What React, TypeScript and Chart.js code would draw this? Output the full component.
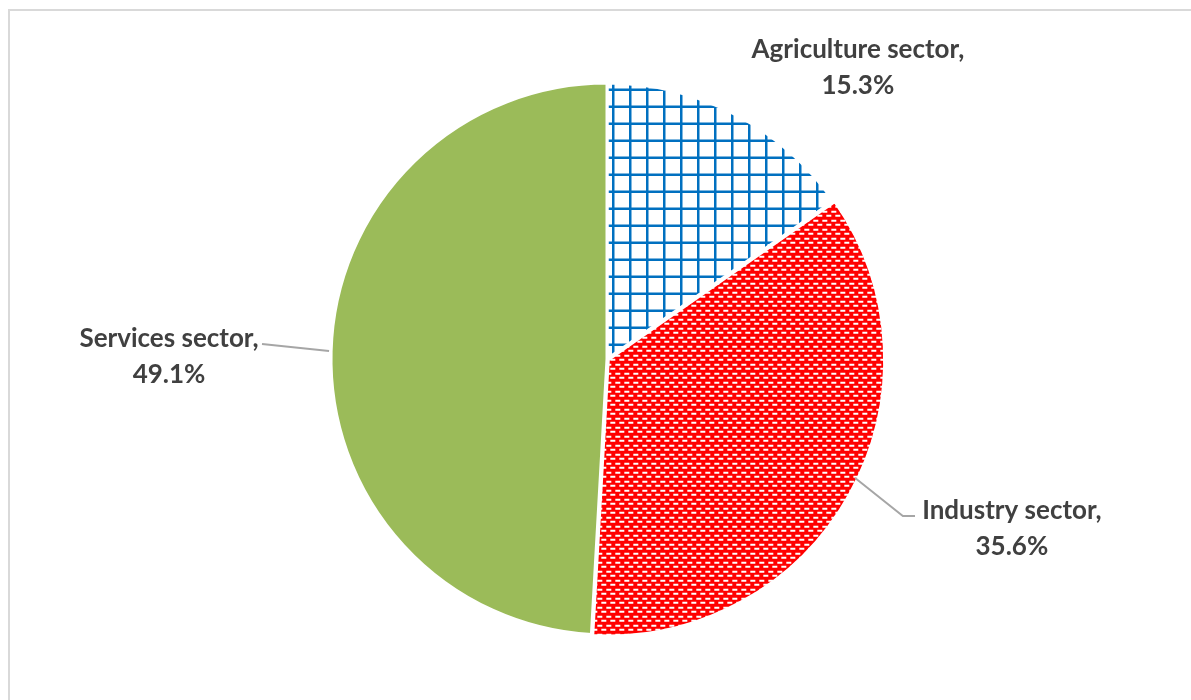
import React, { useEffect, useRef } from "react";
import { Chart, registerables } from "chart.js";

Chart.register(...registerables);

// ---- data ----
const categories = ["Agriculture sector", "Industry sector", "Services sector"];
const shares = [15.3, 35.6, 49.1];
const shareLabels = ["15.3%", "35.6%", "49.1%"];

const FONT = "Lato, 'Open Sans', sans-serif";
const TEXT_COLOR = "#404040";

function makeGridPattern(): CanvasPattern | string {
  const c = document.createElement("canvas");
  c.width = 17;
  c.height = 17;
  const ctx = c.getContext("2d");
  if (!ctx) return "#0070C0";
  ctx.fillStyle = "#ffffff";
  ctx.fillRect(0, 0, 17, 17);
  ctx.fillStyle = "#0070C0";
  ctx.fillRect(7, 0, 2.5, 17);
  ctx.fillRect(0, 9.5, 17, 2.5);
  return ctx.createPattern(c, "repeat") || "#0070C0";
}

function makeBrickPattern(): CanvasPattern | string {
  const c = document.createElement("canvas");
  c.width = 18;
  c.height = 9;
  const ctx = c.getContext("2d");
  if (!ctx) return "#ff0000";
  ctx.fillStyle = "#ff0000";
  ctx.fillRect(0, 0, 18, 9);
  ctx.fillStyle = "#ffffff";
  ctx.fillRect(1, 1, 5, 2);
  ctx.fillRect(10, 1, 5, 2);
  ctx.fillRect(5, 5, 5, 2);
  ctx.fillRect(14, 5, 4, 2);
  ctx.fillRect(0, 5, 1, 2);
  return ctx.createPattern(c, "repeat") || "#ff0000";
}

// label anchors (multiples of radius from the pie centre)
const labelAnchors = [
  { dx: 0.909, dy: -1.054 },
  { dx: 1.467, dy: 0.614 },
  { dx: -1.587, dy: -0.009 },
];
const leaderLines: { x: number; y: number }[][] = [
  [],
  [
    { x: 0.899, y: 0.431 },
    { x: 1.072, y: 0.569 },
    { x: 1.116, y: 0.569 },
  ],
  [
    { x: -1.007, y: -0.029 },
    { x: -1.25, y: -0.054 },
  ],
];

const labelPlugin = {
  id: "sectorLabels",
  afterDatasetsDraw(chart: any) {
    const meta = chart.getDatasetMeta(0);
    const arc = meta.data[0] as any;
    if (!arc) return;
    const cx = arc.x;
    const cy = arc.y;
    const R = arc.outerRadius;
    const ctx = chart.ctx;
    ctx.save();
    // leader lines
    ctx.strokeStyle = "#a6a6a6";
    ctx.lineWidth = 2;
    leaderLines.forEach((pts) => {
      if (!pts.length) return;
      ctx.beginPath();
      pts.forEach((p, i) => {
        const x = cx + p.x * R;
        const y = cy + p.y * R;
        if (i === 0) ctx.moveTo(x, y);
        else ctx.lineTo(x, y);
      });
      ctx.stroke();
    });
    // texts
    ctx.fillStyle = TEXT_COLOR;
    ctx.font = `bold 26px ${FONT}`;
    ctx.textAlign = "center";
    ctx.textBaseline = "middle";
    categories.forEach((cat, i) => {
      const a = labelAnchors[i];
      const x = cx + a.dx * R;
      const y = cy + a.dy * R;
      ctx.fillText(cat + ",", x, y - 18);
      ctx.fillText(shareLabels[i], x, y + 18);
    });
    ctx.restore();
  },
};

export default function App() {
  const ref = useRef<HTMLCanvasElement | null>(null);

  useEffect(() => {
    if (!ref.current) return;
    const grid = makeGridPattern();
    const brick = makeBrickPattern();
    const chart = new Chart(ref.current, {
      type: "pie",
      data: {
        labels: categories,
        datasets: [
          {
            data: shares,
            backgroundColor: [grid, brick, "#9BBB59"],
            borderColor: "#ffffff",
            borderWidth: 3,
            offset: [0, 6, 0],
            radius: 276,
          } as any,
        ],
      },
      options: {
        responsive: false,
        animation: false,
        maintainAspectRatio: false,
        layout: { padding: { left: 13, top: 7, right: 0, bottom: 0 } },
        plugins: {
          legend: { display: false },
          tooltip: { enabled: false },
          title: { display: false },
        },
      },
      plugins: [labelPlugin],
    });
    return () => chart.destroy();
  }, []);

  return (
    <div
      style={{
        position: "fixed",
        left: 0,
        top: 0,
        width: 1191,
        height: 700,
        overflow: "hidden",
        background: "#ffffff",
      }}
    >
      <div
        style={{
          position: "absolute",
          left: 8,
          top: 9,
          width: 1200,
          height: 720,
          border: "2px solid #d9d9d9",
          boxSizing: "border-box",
        }}
      >
        <canvas ref={ref} width={1181} height={689} style={{ display: "block" }} />
      </div>
    </div>
  );
}
